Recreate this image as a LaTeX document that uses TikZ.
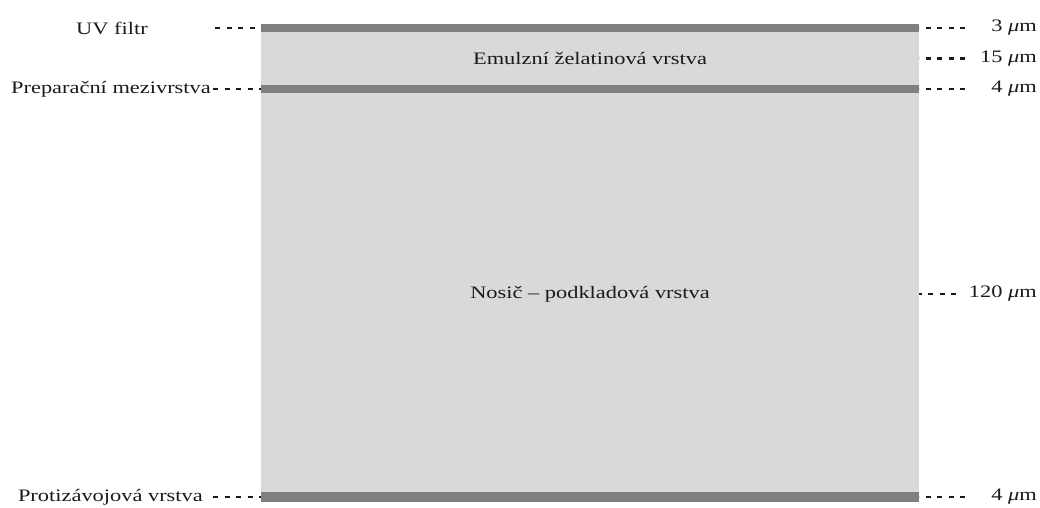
\documentclass[tikz,border=0pt]{standalone}
\usepackage{fontspec}
\setmainfont{Liberation Serif}[FakeStretch=1.28]
\definecolor{layergray}{HTML}{D9D9D9}
\definecolor{bandgray}{HTML}{808080}
\definecolor{ink}{HTML}{1A1A1A}
\begin{document}
\begin{tikzpicture}[x=1pt,y=-1pt,
  lbl/.style={font=\fontsize{17.5}{20}\selectfont, text=ink, inner sep=0pt},
  lead/.style={line width=2.4pt, dash pattern=on 5pt off 6.5pt, draw=ink},
  layer/.style={fill=layergray},
  band/.style={fill=bandgray}]
\useasboundingbox (0,0) rectangle (1040,507);
% layers
\fill[layer] (261,24) rectangle (919,502);
\fill[band] (261,24) rectangle (919,32);
\fill[band] (261,85) rectangle (919,93);
\fill[band] (261,492) rectangle (919,502);
% band end points
\coordinate (uvL) at (261,28);
\coordinate (prL) at (261,89);
\coordinate (ptL) at (261,497);
\coordinate (uvR) at (919,28);
\coordinate (emR) at (919,58.5);
\coordinate (prR) at (919,89);
\coordinate (noR) at (919,294);
\coordinate (ptR) at (919,497);
% leader free ends
\coordinate (uvS) at (215,28);
\coordinate (prS) at (213,89);
\coordinate (ptS) at (213,497);
\coordinate (uvE) at (965,28);
\coordinate (emE) at (965,58.5);
\coordinate (prE) at (965,89);
\coordinate (noE) at (956,294);
\coordinate (ptE) at (965,497);
% left labels
\node[lbl] (uv) at (112,28) {UV filtr};
\node[lbl, anchor=east] (pr) at (211,89) {Preparační mezivrstva};
\node[lbl, anchor=east] (pt) at (203,497) {Protizávojová vrstva};
% centre labels
\node[lbl] (em) at (590,58.5) {Emulzní želatinová vrstva};
\node[lbl] (no) at (590,294) {Nosič – podkladová vrstva};
% right labels
\node[lbl, anchor=east] (t3) at (1037,28) {3 {\itshape μ}m};
\node[lbl, anchor=east] (t15) at (1037,58.5) {15 {\itshape μ}m};
\node[lbl, anchor=east] (t4) at (1037,89) {4 {\itshape μ}m};
\node[lbl, anchor=east] (t120) at (1037,294) {120 {\itshape μ}m};
\node[lbl, anchor=east] (t4b) at (1037,497) {4 {\itshape μ}m};
% leaders
\draw[lead] (uvS) -- (uvL);
\draw[lead] (prS) -- (prL);
\draw[lead] (ptS) -- (ptL);
\draw[lead] (uvE) -- (uvR);
\draw[lead] (emE) -- (emR);
\draw[lead] (prE) -- (prR);
\draw[lead] (noE) -- (noR);
\draw[lead] (ptE) -- (ptR);
\end{tikzpicture}
\end{document}
